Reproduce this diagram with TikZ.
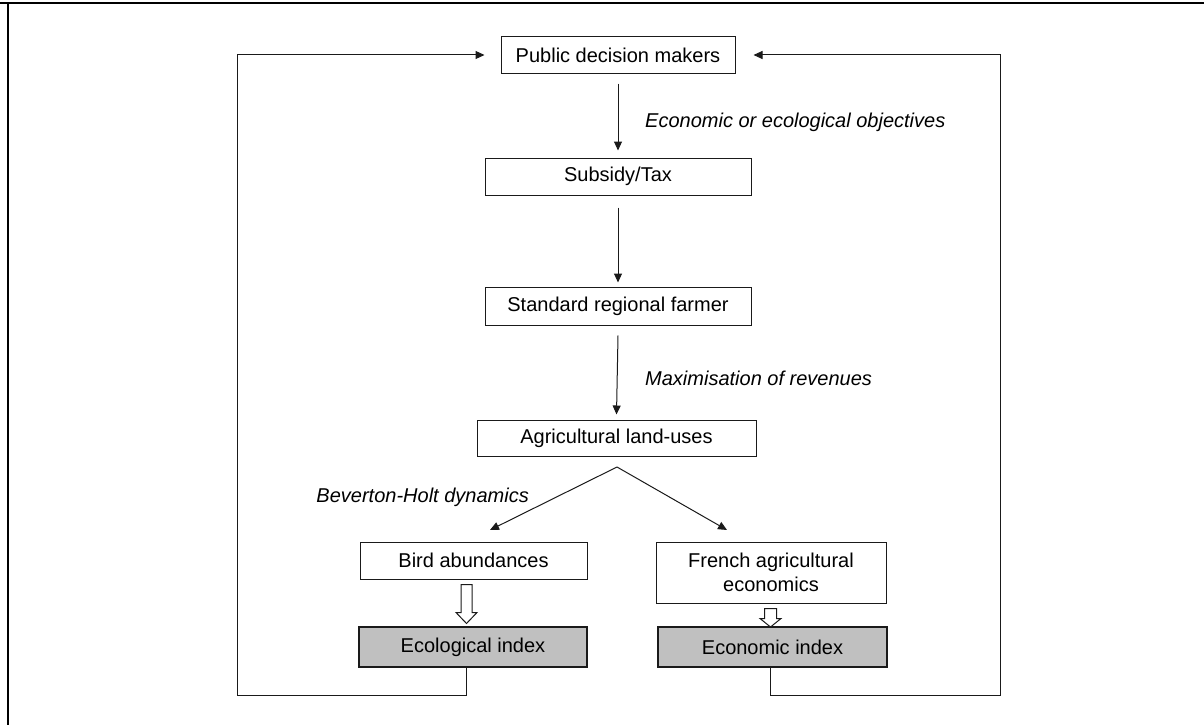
\documentclass[tikz,border=0pt]{standalone}
\usepackage{fontspec}
\setmainfont{Liberation Sans}
\usetikzlibrary{arrows.meta}
\definecolor{idxgray}{HTML}{C0C0C0}
\definecolor{ink}{HTML}{1A1A1A}
\begin{document}
\begin{tikzpicture}[x=1pt,y=-1pt,
  box/.style={draw=ink,line width=1pt,fill=white,inner sep=0pt,font=\fontsize{20}{24}\selectfont,align=center},
  idx/.style={box,fill=idxgray,line width=2pt},
  lab/.style={font=\fontsize{20}{24}\selectfont\itshape,inner sep=0pt},
  arr/.style={draw=ink,line width=1pt,-{Triangle[length=9pt,width=8pt]}},
  hollow/.style={draw=ink,line width=1pt,fill=white,line join=miter}]
\useasboundingbox (0,0) rectangle (1204,725);
\draw[line width=2.5pt] (0,3) -- (1204,3);
\draw[line width=2.2pt] (8,3) -- (8,725);

\node[box,minimum width=234pt,minimum height=36pt] (pub) at (618,55) {Public decision makers};
\node[box,minimum width=266pt,minimum height=37pt] (sub) at (618,176.5) {Subsidy/Tax};
\node[box,minimum width=266pt,minimum height=38pt] (far) at (618,306) {Standard regional farmer};
\node[box,minimum width=279pt,minimum height=36pt] (agr) at (616.5,438) {Agricultural land-uses};
\node[box,minimum width=227pt,minimum height=37pt] (bird) at (473.5,560.5) {Bird abundances};
\node[box,minimum width=230pt,minimum height=61pt] (fre) at (771,572.5) {French agricultural\\economics};
\node[idx,minimum width=228pt,minimum height=40pt] (eco) at (473,647) {Ecological index};
\node[idx,minimum width=229pt,minimum height=40pt] (ecn) at (772.5,647) {Economic index};

\node[lab,anchor=west] (l1) at (645,122) {Economic or ecological objectives};
\node[lab,anchor=west] (l2) at (645,378) {Maximisation of revenues};
\node[lab,anchor=east] (l3) at (529,497) {Beverton-Holt dynamics};

\draw[arr] ([yshift=-10pt]pub.south) -- ([yshift=7pt]sub.north);
\draw[arr] ([yshift=-12pt]sub.south) -- ([yshift=4pt]far.north);
\draw[arr] ([yshift=-10pt]far.south) -- ([yshift=5pt]agr.north);

\coordinate (apex) at (617,467);
\coordinate (vl) at (490,530);
\coordinate (vr) at (727,530);
\draw[arr] (apex) -- (vl);
\draw[arr] (apex) -- (vr);

\coordinate (lc1) at (237,55);
\coordinate (lc2) at (237,695);
\coordinate (rc1) at (1000,55);
\coordinate (rc2) at (1000,695);
\draw[arr] ([xshift=-6.5pt]eco.south) |- (lc2) -- (lc1) -- ([xshift=-16pt]pub.west);
\draw[arr] ([xshift=-2.5pt]ecn.south) |- (rc2) -- (rc1) -- ([xshift=18pt]pub.east);

\draw[hollow] ([xshift=-7pt,yshift=-5pt]bird.south) ++(-5.5,0) -- ++(0,28) -- ++(-5,0) -- ++(10.5,11) -- ++(10.5,-11) -- ++(-5,0) -- ++(0,-28) -- cycle;
\draw[hollow] ([xshift=-0.5pt,yshift=-5pt]fre.south) ++(-6,0) -- ++(0,10) -- ++(-4.5,0) -- ++(10.5,8.5) -- ++(10.5,-8.5) -- ++(-4.5,0) -- ++(0,-10) -- cycle;
\end{tikzpicture}
\end{document}
